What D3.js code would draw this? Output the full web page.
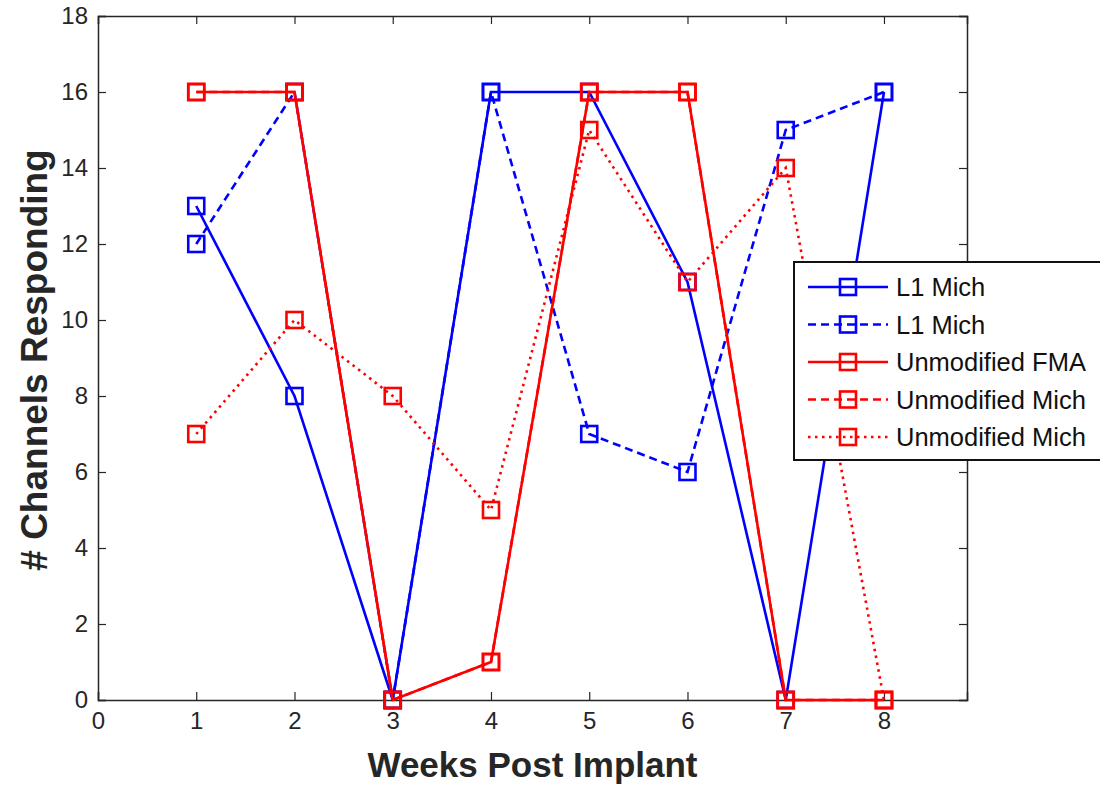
<!DOCTYPE html>
<html>
<head>
<meta charset="utf-8">
<script src="https://cdn.jsdelivr.net/npm/d3@7"></script>
<style>
  body { margin: 0; background: #fff; }
  svg { display: block; font-family: "Liberation Sans", Arial, Helvetica, sans-serif; }
</style>
</head>
<body>
<svg width="1100" height="786"></svg>
<script>
// data
const weeks = [1, 2, 3, 4, 5, 6, 7, 8];
const l1MichSolid = [13, 8, 0, 16, 16, 11, 0, 16];
const l1MichDashed = [12, 16, 0, 16, 7, 6, 15, 16];
const fmaSolid = [16, 16, 0, 1, 16, 16, 0, 0];
const michDashed = [16, 16, 0, 1, 16, 16, 0, 0];
const michDotted = [7, 10, 8, 5, 15, 11, 14, 0];
const seriesNames = ['L1 Mich', 'L1 Mich', 'Unmodified FMA', 'Unmodified Mich', 'Unmodified Mich'];
const xTicks = [0, 1, 2, 3, 4, 5, 6, 7, 8];
const yTicks = [0, 2, 4, 6, 8, 10, 12, 14, 16, 18];

const series = [
  { name: seriesNames[0], values: l1MichSolid, color: '#0000ff', dash: null },
  { name: seriesNames[1], values: l1MichDashed, color: '#0000ff', dash: '8,5' },
  { name: seriesNames[2], values: fmaSolid, color: '#ff0000', dash: null },
  { name: seriesNames[3], values: michDashed, color: '#ff0000', dash: '8,5' },
  { name: seriesNames[4], values: michDotted, color: '#ff0000', dash: '2.5,4.5' },
];

const svg = d3.select('svg');
const axisColor = '#262626';
const plotLeft = 98, plotRight = 967, plotTop = 16, plotBottom = 700;

const x = d3.scaleLinear().domain([0, 8.845]).range([plotLeft, plotRight]);
const y = d3.scaleLinear().domain([0, 18]).range([plotBottom, plotTop]);

// axes box with inward ticks on all sides
const axes = svg.append('g');

axes.append('g')
  .attr('transform', `translate(0,${plotBottom})`)
  .call(d3.axisBottom(x).tickValues(xTicks).tickSize(-8).tickPadding(12).tickFormat(d3.format('d')));
axes.append('g')
  .attr('transform', `translate(0,${plotTop})`)
  .call(d3.axisTop(x).tickValues(xTicks).tickSize(-8).tickFormat(''));
axes.append('g')
  .attr('transform', `translate(${plotLeft},0)`)
  .call(d3.axisLeft(y).tickValues(yTicks).tickSize(-8).tickPadding(10).tickFormat(d3.format('d')));
axes.append('g')
  .attr('transform', `translate(${plotRight},0)`)
  .call(d3.axisRight(y).tickValues(yTicks).tickSize(-8).tickFormat(''));

axes.selectAll('.domain').attr('stroke', axisColor).attr('stroke-width', 1.5);
axes.selectAll('.tick line').attr('stroke', axisColor).attr('stroke-width', 1.2);
axes.selectAll('.tick text')
  .attr('fill', axisColor)
  .style('font-size', '24px')
  .style('font-family', '"Liberation Sans", Arial, sans-serif');

// axis labels
svg.append('text')
  .attr('x', (plotLeft + plotRight) / 2)
  .attr('y', 777)
  .attr('text-anchor', 'middle')
  .attr('fill', axisColor)
  .style('font-size', '35px')
  .style('font-weight', 'bold')
  .text('Weeks Post Implant');

svg.append('text')
  .attr('transform', `translate(47,${(plotTop + plotBottom) / 2 + 2}) rotate(-90)`)
  .attr('text-anchor', 'middle')
  .attr('fill', axisColor)
  .style('font-size', '37px')
  .style('font-weight', 'bold')
  .text('# Channels Responding');

// lines and markers
const line = d3.line()
  .x((d, i) => x(weeks[i]))
  .y(d => y(d));

const plot = svg.append('g');
const m = 16;

series.forEach(s => {
  const g = plot.append('g');
  g.append('path')
    .attr('d', line(s.values))
    .attr('fill', 'none')
    .attr('stroke', s.color)
    .attr('stroke-width', 2.6)
    .attr('stroke-dasharray', s.dash);
  g.selectAll('rect')
    .data(s.values)
    .enter().append('rect')
      .attr('x', (d, i) => x(weeks[i]) - m / 2)
      .attr('y', d => y(d) - m / 2)
      .attr('width', m)
      .attr('height', m)
      .attr('fill', 'none')
      .attr('stroke', s.color)
      .attr('stroke-width', 2.6);
});

// legend
const legend = svg.append('g').attr('transform', 'translate(794,262)');
legend.append('rect')
  .attr('width', 330)
  .attr('height', 198)
  .attr('fill', '#fff')
  .attr('stroke', '#111')
  .attr('stroke-width', 2);

const row = legend.selectAll('g.row')
  .data(series)
  .enter().append('g')
    .attr('class', 'row')
    .attr('transform', (d, i) => `translate(0,${25 + i * 37.5})`);

row.append('line')
  .attr('x1', 14).attr('x2', 94)
  .attr('stroke', d => d.color)
  .attr('stroke-width', 2.6)
  .attr('stroke-dasharray', d => d.dash);
row.append('rect')
  .attr('x', 54 - m / 2).attr('y', -m / 2)
  .attr('width', m).attr('height', m)
  .attr('fill', 'none')
  .attr('stroke', d => d.color)
  .attr('stroke-width', 2.6);
row.append('text')
  .attr('x', 102)
  .attr('y', 9)
  .attr('fill', '#111')
  .style('font-size', '25.5px')
  .text(d => d.name);
</script>
</body>
</html>
